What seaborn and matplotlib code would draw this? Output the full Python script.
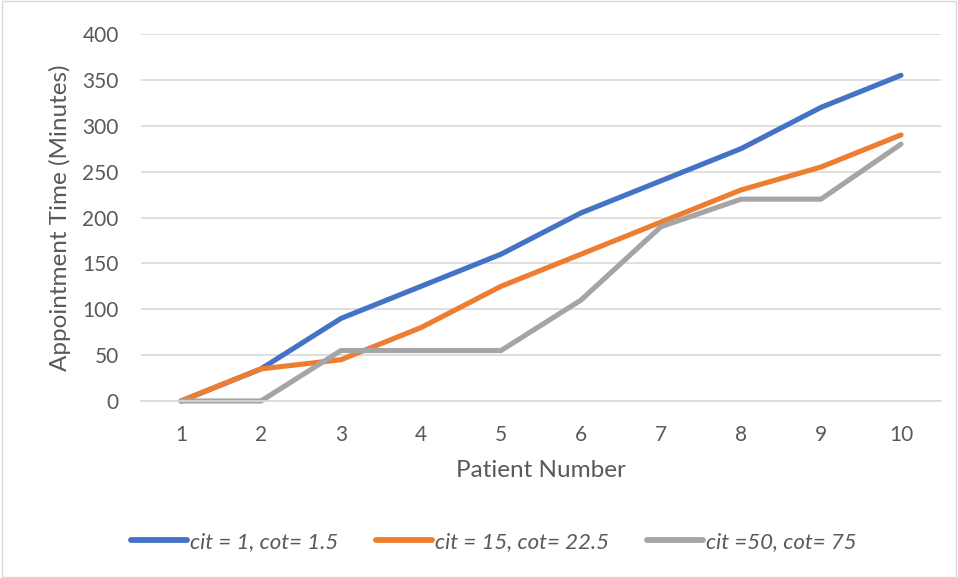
import matplotlib
matplotlib.use("Agg")
import matplotlib.pyplot as plt
import seaborn as sns
import pandas as pd
from matplotlib.lines import Line2D

patients = [1, 2, 3, 4, 5, 6, 7, 8, 9, 10]
series_names = ["cit = 1, cot= 1.5", "cit = 15, cot= 22.5", "cit =50, cot= 75"]
blue_vals = [0, 35, 90, 125, 160, 205, 240, 275, 320, 355]
orange_vals = [0, 35, 45, 80, 125, 160, 195, 230, 255, 290]
gray_vals = [0, 0, 55, 55, 55, 110, 190, 220, 220, 280]
yticks = [0, 50, 100, 150, 200, 250, 300, 350, 400]

colors = ["#4472C4", "#ED7D31", "#A5A5A5"]

rows = []
for name, vals in zip(series_names, [blue_vals, orange_vals, gray_vals]):
    for p, v in zip(patients, vals):
        rows.append({"Patient": p, "Time": v, "Series": name})
df = pd.DataFrame(rows)

sns.set_theme(style="white")
plt.rcParams['font.family'] = ['Lato', 'DejaVu Sans']

fig = plt.figure(figsize=(9.58, 5.78), dpi=100)
ax = fig.add_axes([141/958, 1 - 401/578, 800/958, 367/578])

sns.lineplot(data=df, x="Patient", y="Time", hue="Series", palette=colors,
             linewidth=3.7, ax=ax, legend=False, solid_capstyle="round",
             solid_joinstyle="round")
for ln in ax.get_lines():
    ln.set_clip_on(False)

ax.set_xlim(0.5, 10.5)
ax.set_ylim(0, 400)
ax.set_xticks(patients)
ax.set_yticks(yticks)
ax.tick_params(axis="both", colors="#595959", labelsize=15, length=0)
ax.tick_params(axis="y", pad=16)
ax.tick_params(axis="x", pad=17)
ax.grid(axis="y", color="#D9D9D9", linewidth=1.2)
ax.set_axisbelow(True)
for s in ["top", "right", "left"]:
    ax.spines[s].set_visible(False)
ax.spines["bottom"].set_color("#D9D9D9")
ax.spines["bottom"].set_linewidth(1.2)

ax.set_xlabel("Patient Number", fontsize=17.5, color="#595959", labelpad=11)
ax.set_ylabel("Appointment Time (Minutes)", fontsize=17.5, color="#595959", labelpad=8)

handles = [Line2D([0], [0], color=c, linewidth=4.2, solid_capstyle="round") for c in colors]
leg = fig.legend(handles, series_names, loc="center", bbox_to_anchor=(494/958, 1 - 542/578),
                 ncol=3, frameon=False, handlelength=2.5, handletextpad=0.15,
                 columnspacing=1.7, prop={"size": 16, "style": "italic"})
for t in leg.get_texts():
    t.set_color("#595959")

border = plt.Rectangle((0.002, 0.002), 0.996, 0.996, transform=fig.transFigure,
                       fill=False, edgecolor="#D9D9D9", linewidth=1)
fig.patches.append(border)

fig.savefig("out.png", dpi=100, facecolor="white")
